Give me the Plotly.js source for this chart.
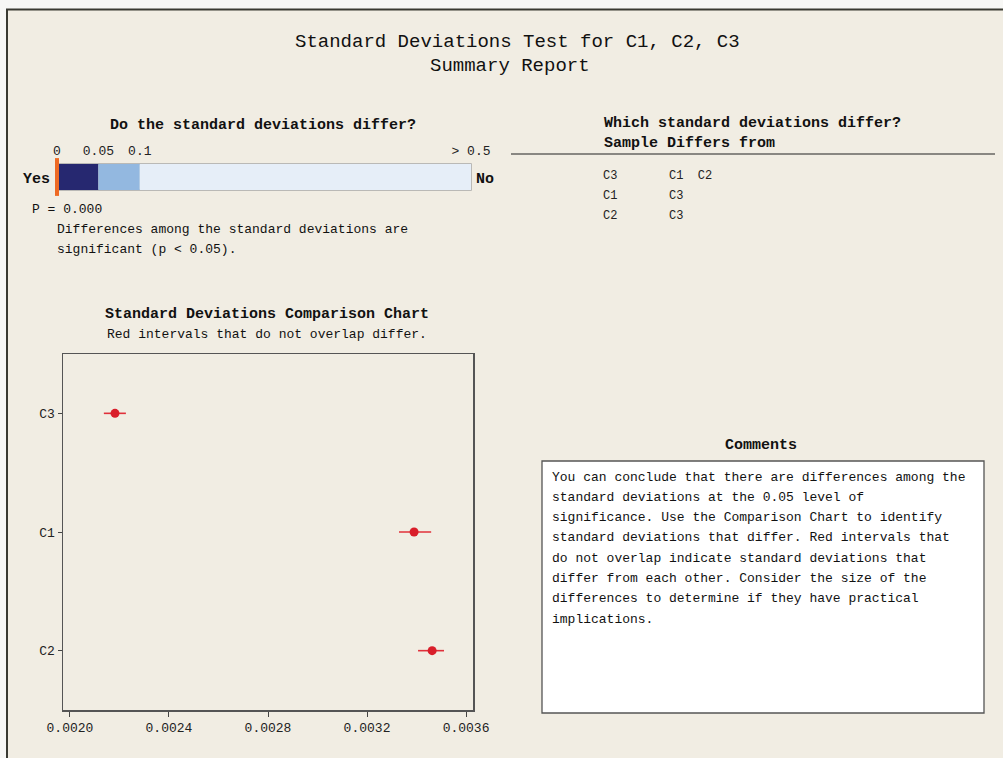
<!DOCTYPE html>
<html>
<head>
<meta charset="utf-8">
<script src="https://cdn.plot.ly/plotly-3.0.1.min.js"></script>
<style>html,body{margin:0;padding:0;background:#fff;} #chart{width:1003px;height:758px;}</style>
</head>
<body>
<div id="chart"></div>
<script>
// ---- data ----
const samples = ['C3', 'C1', 'C2'];
const stdevs = [0.002182, 0.003390, 0.003463];
const ciLower = [0.002137, 0.003329, 0.003406];
const ciUpper = [0.002226, 0.003459, 0.003511];
const xTickVals = [0.0020, 0.0024, 0.0028, 0.0032, 0.0036];
const xTickText = ['0.0020', '0.0024', '0.0028', '0.0032', '0.0036'];

const pScaleStarts = [0, 0.05, 0.1];
const pScaleEnds = [0.05, 0.1, 0.5];
const pScaleColors = ['#262870', '#93B8E0', '#E6EEF8'];
const pTickVals = [0, 0.05, 0.1, 0.5];
const pTickText = ['0', '0.05', '0.1', '> 0.5'];
const pValue = 0.000;

const diffSamples = ['C3', 'C1', 'C2'];
const diffFrom = ['C1  C2', 'C3', 'C3'];

const commentLines = [
  'You can conclude that there are differences among the',
  'standard deviations at the 0.05 level of',
  'significance. Use the Comparison Chart to identify',
  'standard deviations that differ. Red intervals that',
  'do not overlap indicate standard deviations that',
  'differ from each other. Consider the size of the',
  'differences to determine if they have practical',
  'implications.'
];

// ---- helpers ----
const W = 1003, H = 758;
const px = v => v / W;
const py = v => 1 - v / H;
const MONO = 'Liberation Mono, DejaVu Sans Mono, monospace';
const BG = '#F1EDE3';

const traces = [];
// p-value scale bars
traces.push({
  type: 'bar', orientation: 'h',
  x: pScaleEnds.map((e, i) => e - pScaleStarts[i]),
  base: pScaleStarts,
  y: [0, 0, 0],
  width: 1,
  marker: {color: pScaleColors, line: {width: 0}},
  xaxis: 'x2', yaxis: 'y2',
  hoverinfo: 'skip', showlegend: false
});
// p-value marker
traces.push({
  type: 'scatter', mode: 'markers',
  x: [pValue], y: [0],
  marker: {symbol: 'line-ns', size: 27, color: '#EE6A24', line: {color: '#EE6A24', width: 4}},
  cliponaxis: false,
  xaxis: 'x2', yaxis: 'y2',
  hoverinfo: 'skip', showlegend: false
});
// comparison chart
traces.push({
  type: 'scatter', mode: 'markers',
  x: stdevs, y: samples,
  marker: {color: '#D91E2A', size: 9},
  error_x: {
    type: 'data', symmetric: false,
    array: ciUpper.map((u, i) => u - stdevs[i]),
    arrayminus: stdevs.map((s, i) => s - ciLower[i]),
    color: '#E0303A', thickness: 1.6, width: 0
  },
  xaxis: 'x', yaxis: 'y',
  showlegend: false
});

const ann = [];
function txt(x, y, text, opts) {
  ann.push(Object.assign({
    xref: 'paper', yref: 'paper', x: px(x), y: py(y), text: text,
    showarrow: false, xanchor: 'left', yanchor: 'middle',
    font: {family: MONO, size: 13, color: '#111'}
  }, opts || {}));
}
txt(517, 42, 'Standard Deviations Test for C1, C2, C3', {xanchor: 'center', font: {family: MONO, size: 19, color: '#111'}});
txt(510, 66, 'Summary Report', {xanchor: 'center', font: {family: MONO, size: 19, color: '#111'}});
txt(263, 125, '<b>Do the standard deviations differ?</b>', {xanchor: 'center', font: {family: MONO, size: 15, color: '#111'}});
txt(52, 179, '<b>Yes</b>', {xanchor: 'right', font: {family: MONO, size: 15, color: '#111'}});
txt(474, 179, '<b>No</b>', {font: {family: MONO, size: 15, color: '#111'}});
txt(30, 209, 'P = ' + pValue.toFixed(3));
txt(55, 229, 'Differences among the standard deviations are');
txt(55, 249, 'significant (p < 0.05).');
txt(602, 123, '<b>Which standard deviations differ?</b>', {font: {family: MONO, size: 15, color: '#111'}});
txt(602, 143, '<b>Sample Differs from</b>', {font: {family: MONO, size: 15, color: '#111'}});
diffSamples.forEach((s, i) => {
  txt(601, 176 + i * 20, s, {font: {family: MONO, size: 12, color: '#222'}});
  txt(667, 176 + i * 20, diffFrom[i], {font: {family: MONO, size: 12, color: '#222'}});
});
txt(267, 315, '<b>Standard Deviations Comparison Chart</b>', {xanchor: 'center', font: {family: MONO, size: 15, color: '#111'}});
txt(267, 334, 'Red intervals that do not overlap differ.', {xanchor: 'center'});
txt(761, 445, '<b>Comments</b>', {xanchor: 'center', font: {family: MONO, size: 15, color: '#111'}});
commentLines.forEach((l, i) => txt(550, 477 + i * 20.3, l));

const shapes = [
  // outer frame
  {type: 'rect', xref: 'paper', yref: 'paper', x0: px(7), x1: px(1010), y0: py(770), y1: py(9.5),
   fillcolor: BG, line: {color: '#3A3A32', width: 2}, layer: 'below'},
  // line under table header
  {type: 'line', xref: 'paper', yref: 'paper', x0: px(511), x1: px(995), y0: py(154), y1: py(154),
   line: {color: '#222', width: 1.2}},
  // comments box
  {type: 'rect', xref: 'paper', yref: 'paper', x0: px(542), x1: px(984), y0: py(713), y1: py(461),
   fillcolor: '#FFFFFF', line: {color: '#555', width: 1.3}, layer: 'below'},
  // p-bar outline
  {type: 'rect', xref: 'x2 domain', yref: 'y2 domain', x0: 0, x1: 1, y0: 0, y1: 1,
   line: {color: '#A8A8A8', width: 1.5}, layer: 'below'}
];

const layout = {
  width: W, height: H,
  margin: {l: 0, r: 0, t: 0, b: 0},
  paper_bgcolor: '#F7F7F5',
  plot_bgcolor: '#FFFFFF',
  showlegend: false,
  font: {family: MONO, size: 13, color: '#111'},
  xaxis: {
    domain: [px(63), px(473)], anchor: 'y',
    range: [0.001972, 0.003628],
    tickvals: xTickVals, ticktext: xTickText,
    ticks: 'outside', ticklen: 5, tickcolor: '#444', tickwidth: 1,
    showline: true, linecolor: '#555', linewidth: 1.5, mirror: true,
    showgrid: false, zeroline: false,
    tickfont: {family: MONO, size: 13, color: '#222'}
  },
  yaxis: {
    domain: [py(710), py(354)], anchor: 'x',
    type: 'category', categoryorder: 'array', categoryarray: ['C2', 'C1', 'C3'],
    range: [-0.5, 2.5],
    ticks: 'outside', ticklen: 4, tickcolor: '#444', tickwidth: 1,
    showline: true, linecolor: '#555', linewidth: 1.5, mirror: true,
    showgrid: false, zeroline: false,
    tickfont: {family: MONO, size: 13, color: '#222'}
  },
  xaxis2: {
    domain: [px(57), px(471)], anchor: 'y2', side: 'top',
    range: [0, 0.5],
    tickvals: pTickVals, ticktext: pTickText,
    ticks: '', ticklabelstandoff: 5, showline: false, showgrid: false, zeroline: false,
    tickfont: {family: MONO, size: 13, color: '#222'}
  },
  yaxis2: {
    domain: [py(190), py(164)], anchor: 'x2',
    range: [-0.5, 0.5], visible: false, fixedrange: true
  },
  shapes: shapes,
  annotations: ann
};

Plotly.newPlot('chart', traces, layout, {staticPlot: true, displayModeBar: false});
</script>
</body>
</html>
